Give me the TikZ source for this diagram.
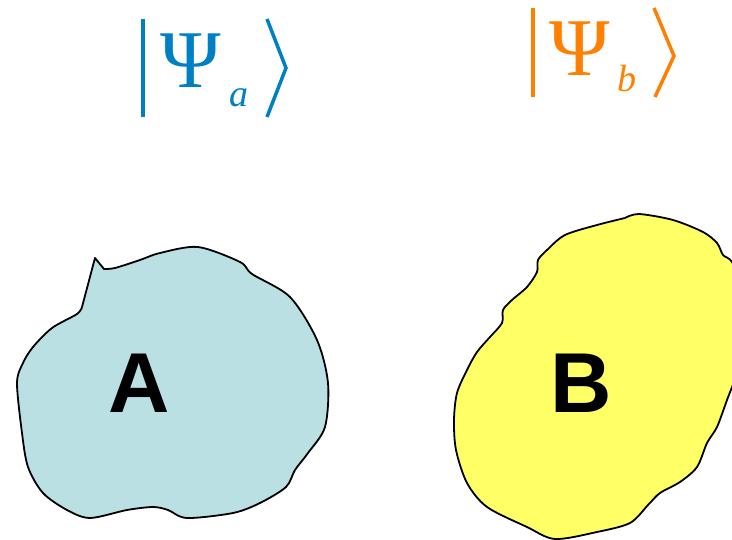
\documentclass[tikz,border=0pt]{standalone}
\usepackage{fontspec}
\newfontfamily\tms{Liberation Serif}
\newfontfamily\arl{Liberation Sans}
\definecolor{psiblue}{RGB}{0,128,196}
\definecolor{psiorange}{RGB}{255,128,0}
\definecolor{blobblue}{RGB}{187,224,228}
\definecolor{blobyellow}{RGB}{255,255,102}
\tikzset{
  blobline/.style={draw=black, line width=1.8pt, line join=round},
  ketline/.style={line width=3.5pt, line cap=butt, line join=miter},
  psitext/.style={inner sep=0pt, font=\tms\fontsize{82}{90}\selectfont},
  subtext/.style={inner sep=0pt, font=\tms\itshape\fontsize{38}{44}\selectfont},
  bigletter/.style={inner sep=0pt, font=\arl\bfseries\fontsize{85}{95}\selectfont}
}
\begin{document}
\begin{tikzpicture}[x=1pt,y=-1pt]
\useasboundingbox (0,0) rectangle (732,540);
\clip (0,0) rectangle (732,540);
% ket a
\coordinate (abarT) at (143,19);
\coordinate (abarB) at (143,117);
\coordinate (abrT) at (267,19);
\coordinate (abrM) at (286,68);
\coordinate (abrB) at (267,117);
\draw[ketline, psiblue] (abarT) -- (abarB);
\draw[ketline, psiblue] (abrT) -- (abrM) -- (abrB);
\node[psitext, text=psiblue, anchor=base] (psia) at (191,88) {Ψ};
\node[subtext, text=psiblue, anchor=base west] (suba) at (229,107) {a};
% ket b
\coordinate (bbarT) at (533,8);
\coordinate (bbarB) at (533,97);
\coordinate (bbrT) at (654,8);
\coordinate (bbrM) at (674,56);
\coordinate (bbrB) at (655,97);
\draw[ketline, psiorange] (bbarT) -- (bbarB);
\draw[ketline, psiorange] (bbrT) -- (bbrM) -- (bbrB);
\node[psitext, text=psiorange, anchor=base] (psib) at (580,76) {Ψ};
\node[subtext, text=psiorange, anchor=base west] (subb) at (617,92) {b};
% blob A
\filldraw[blobline, fill=blobblue] (82,307) -- (95,258) -- (104,269)
  -- plot[smooth, tension=0.5] coordinates {(104,269) (115,268) (140,260) (160,253) (198,247) (240,262) (252,274) (290,297) (317,340) (328,383) (325,427) (308,453) (295,470) (286,487) (260,503) (233,513) (187,518) (168,510) (153,507) (127,510) (90,518) (67,510) (43,493) (28,467) (22,433) (17,383) (23,363) (33,347) (52,328) (77,314) (82,307)} -- cycle;
% blob B
\filldraw[blobline, fill=blobyellow] (625,218)
  -- plot[smooth, tension=0.5] coordinates {(625,218) (639,214) (673,220) (703,232) (717,243) (723,255) (732,262) (744,290) (746,330) (738,370) (727,400) (717,427) (707,443) (697,467) (680,482) (660,493) (648,505) (630,523) (597,532) (555,539) (527,527) (487,507) (467,483) (456,450) (454,420) (457,393) (467,370) (477,352) (490,337) (502,323) (503,310) (512,300) (527,287) (537,272) (538,260) (547,250) (565,235) (597,225) (625,218)} -- cycle;
\node[bigletter] (labA) at (139,383) {A};
\node[bigletter] (labB) at (581,383) {B};
\end{tikzpicture}
\end{document}
